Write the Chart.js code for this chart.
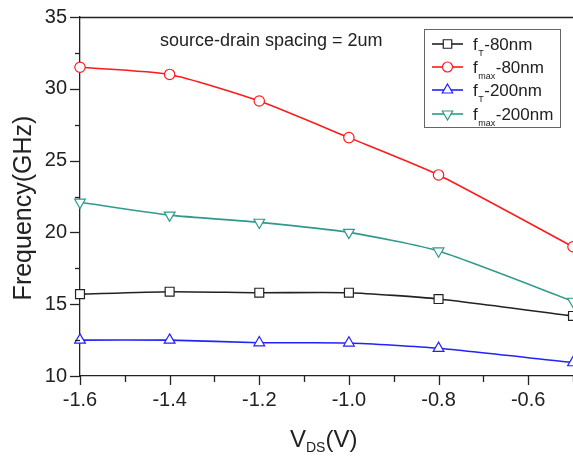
<!DOCTYPE html>
<html>
<head>
<meta charset="utf-8">
<script src="https://cdn.jsdelivr.net/npm/chart.js@4/dist/chart.umd.min.js"></script>
<style>
  html, body { margin: 0; padding: 0; background: #fff; }
  #wrap { width: 573px; height: 457px; position: relative; }
</style>
</head>
<body>
<div id="wrap"><canvas id="c" width="573" height="457"></canvas></div>
<script>
// ---- data ----
const vds = [-1.6, -1.4, -1.2, -1.0, -0.8, -0.5];
const fT80 = [15.7, 15.87, 15.8, 15.8, 15.36, 14.18];
const fmax80 = [31.5, 31.0, 29.15, 26.6, 24.0, 19.0];
const fT200 = [12.5, 12.5, 12.32, 12.3, 11.93, 10.93];
const fmax200 = [22.1, 21.2, 20.7, 20.0, 18.7, 15.2];
const seriesNames = [["f", "T", "-80nm"], ["f", "max", "-80nm"], ["f", "T", "-200nm"], ["f", "max", "-200nm"]];
const xTickLabels = ["-1.6", "-1.4", "-1.2", "-1.0", "-0.8", "-0.6"];
const yTickLabels = ["10", "15", "20", "25", "30", "35"];
const annotation = "source-drain spacing = 2um";
const yTitle = "Frequency(GHz)";
const xTitle = ["V", "DS", "(V)"];

const FONT = "'Liberation Sans', Arial, Helvetica, sans-serif";

const styles = [
  { color: '#222222', point: 'rect', radius: 6.3, rot: 0 },
  { color: '#ff1a1a', point: 'circle', radius: 5.2, rot: 0 },
  { color: '#2222ff', point: 'triangle', radius: 6.2, rot: 0 },
  { color: '#2f9a8c', point: 'triangle', radius: 6.2, rot: 180 }
];
const allSeries = [fT80, fmax80, fT200, fmax200];

function toPts(arr) { return vds.map((x, i) => ({ x: x, y: arr[i] })); }

const datasets = allSeries.map((arr, i) => ({
  label: seriesNames[i].join(''),
  data: toPts(arr),
  borderColor: styles[i].color,
  borderWidth: 1.6,
  pointStyle: styles[i].point,
  pointRotation: styles[i].rot,
  pointRadius: styles[i].radius,
  pointBorderWidth: 1.2,
  pointBackgroundColor: '#ffffff',
  pointBorderColor: styles[i].color,
  tension: 0.2,
  fill: false,
  clip: false
}));

function drawMarker(ctx, style, x, y, r, rot, color) {
  ctx.save();
  ctx.fillStyle = '#fff';
  ctx.strokeStyle = color;
  ctx.lineWidth = 1.2;
  ctx.beginPath();
  if (style === 'rect') {
    const s = Math.SQRT1_2 * r;
    ctx.rect(x - s, y - s, 2 * s, 2 * s);
  } else if (style === 'circle') {
    ctx.arc(x, y, r, 0, Math.PI * 2);
  } else {
    const a = rot * Math.PI / 180;
    for (let k = 0; k < 3; k++) {
      const ang = a - Math.PI / 2 + k * 2 * Math.PI / 3;
      const px = x + Math.cos(ang) * r, py = y + Math.sin(ang) * r;
      if (k === 0) ctx.moveTo(px, py); else ctx.lineTo(px, py);
    }
    ctx.closePath();
  }
  ctx.fill();
  ctx.stroke();
  ctx.restore();
}

const decor = {
  id: 'decor',
  afterDraw(chart) {
    const ctx = chart.ctx;
    const xs = chart.scales.x, ys = chart.scales.y;
    const ca = chart.chartArea;
    ctx.save();
    ctx.strokeStyle = '#222';
    ctx.lineWidth = 1.3;
    // top frame
    ctx.beginPath();
    ctx.moveTo(ca.left, ca.top + 0.5);
    ctx.lineTo(ca.right + 2, ca.top + 0.5);
    ctx.stroke();
    // x ticks
    for (let k = -16; k <= -5; k++) {
      const v = k / 10;
      const px = Math.round(xs.getPixelForValue(v)) + 0.5;
      const major = (k % 2 === 0);
      ctx.beginPath();
      ctx.moveTo(px, ca.bottom);
      ctx.lineTo(px, ca.bottom + (major ? 9 : 6));
      ctx.stroke();
    }
    // y ticks
    for (let v = 10; v <= 35; v += 2.5) {
      const py = Math.round(ys.getPixelForValue(v)) + 0.5;
      const major = (v % 5 === 0);
      ctx.beginPath();
      ctx.moveTo(ca.left, py);
      ctx.lineTo(ca.left - (major ? 10 : 5), py);
      ctx.stroke();
    }
    // annotation
    ctx.fillStyle = '#222';
    ctx.font = '18px ' + FONT;
    ctx.textBaseline = 'alphabetic';
    ctx.textAlign = 'left';
    ctx.fillText(annotation, 160, 46);

    // y title
    ctx.save();
    ctx.translate(31, 208);
    ctx.rotate(-Math.PI / 2);
    ctx.font = '25px ' + FONT;
    ctx.textAlign = 'center';
    ctx.fillText(yTitle, 0, 0);
    ctx.restore();

    // x title with subscript
    ctx.font = '24px ' + FONT;
    let x0 = 290;
    const base = 447;
    ctx.fillText(xTitle[0], x0, base);
    x0 += ctx.measureText(xTitle[0]).width;
    ctx.font = '14px ' + FONT;
    ctx.fillText(xTitle[1], x0, base + 5);
    x0 += ctx.measureText(xTitle[1]).width;
    ctx.font = '24px ' + FONT;
    ctx.fillText(xTitle[2], x0, base);

    // legend
    ctx.strokeStyle = '#666';
    ctx.lineWidth = 1;
    ctx.strokeRect(424.5, 29.5, 136, 98);
    const rowsY = [44, 67, 90, 114];
    seriesNames.forEach((parts, i) => {
      const y = rowsY[i];
      const st = styles[i];
      ctx.strokeStyle = st.color;
      ctx.lineWidth = 1.6;
      ctx.beginPath();
      ctx.moveTo(432, y);
      ctx.lineTo(463, y);
      ctx.stroke();
      drawMarker(ctx, st.point, 447.5, y, st.point === 'circle' ? 5 : 6, st.rot, st.color);
      ctx.fillStyle = '#222';
      let tx = 473;
      ctx.font = '17px ' + FONT;
      ctx.fillText(parts[0], tx, y + 6);
      tx += ctx.measureText(parts[0]).width + 0.5;
      ctx.font = '9px ' + FONT;
      ctx.fillText(parts[1], tx, y + 12);
      tx += ctx.measureText(parts[1]).width + 0.5;
      ctx.font = '17px ' + FONT;
      ctx.fillText(parts[2], tx, y + 6);
    });
    ctx.restore();
  }
};

new Chart(document.getElementById('c'), {
  type: 'line',
  data: { datasets: datasets },
  plugins: [decor],
  options: {
    responsive: false,
    animation: false,
    events: [],
    layout: { autoPadding: false, padding: { top: 17, right: 0, left: 0, bottom: 0 } },
    plugins: { legend: { display: false }, tooltip: { enabled: false }, title: { display: false } },
    scales: {
      x: {
        type: 'linear',
        min: -1.6,
        max: -0.5,
        afterFit(s) { s.height = 81; s.paddingRight = 0; s.paddingLeft = 0; },
        grid: { display: false, drawTicks: false },
        border: { display: true, color: '#222', width: 1.3 },
        ticks: {
          stepSize: 0.2,
          autoSkip: false,
          maxRotation: 0,
          padding: 12,
          color: '#222',
          font: { family: FONT, size: 20 },
          callback(v) {
            const k = Math.round(v * 10);
            if (k % 2 !== 0) return null;
            const idx = (k + 16) / 2;
            return xTickLabels[idx];
          }
        },
        afterBuildTicks(s) {
          s.ticks = xTickLabels.map(t => ({ value: parseFloat(t) }));
        }
      },
      y: {
        min: 10,
        max: 35,
        afterFit(s) { s.width = 80; s.paddingTop = 0; s.paddingBottom = 0; },
        grid: { display: false, drawTicks: false },
        border: { display: true, color: '#222', width: 1.3 },
        ticks: {
          stepSize: 5,
          padding: 13,
          color: '#222',
          font: { family: FONT, size: 20 },
          callback(v) { return yTickLabels[Math.round((v - 10) / 5)]; }
        }
      }
    }
  }
});
</script>
</body>
</html>
